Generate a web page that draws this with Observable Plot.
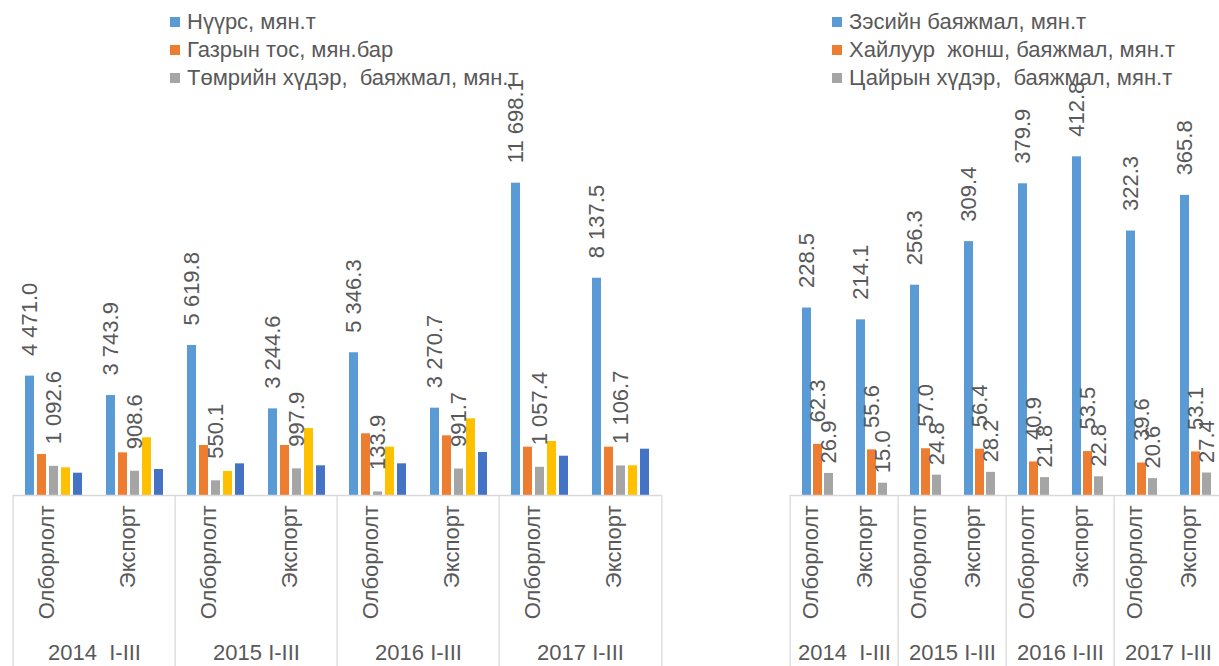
<!DOCTYPE html>
<html>
<head>
<meta charset="utf-8">
<script src="https://cdn.jsdelivr.net/npm/d3@7"></script>
<script src="https://cdn.jsdelivr.net/npm/@observablehq/plot@0.6"></script>
<style>
  html, body { margin: 0; padding: 0; background: #fff; }
  #wrap { position: relative; width: 1219px; height: 666px; overflow: hidden; font-family: "Liberation Sans", Arial, sans-serif; }
  .panel { position: absolute; top: 0; }
  .panel svg { max-width: none !important; }
  .legend { position: absolute; top: 8px; font-size: 22px; color: #595959; }
  .legend .row { height: 28px; display: flex; align-items: center; white-space: pre; }
  .legend .sw { width: 10px; height: 10px; margin-right: 7px; flex: none; }
</style>
</head>
<body>
<div id="wrap">
  <div id="left" class="panel" style="left:0px; width:680px"></div>
  <div id="right" class="panel" style="left:770px; width:460px"></div>
  <div id="legL" class="legend" style="left:170px"></div>
  <div id="legR" class="legend" style="left:832px"></div>
</div>
<script>
// ---------- data ----------
const years = ["2014", "2015", "2016", "2017"];
const yearLabels = ["2014  I-III", "2015 I-III", "2016 I-III", "2017 I-III"];
const types = ["Олборлолт", "Экспорт"];

// Left panel series (order within each group)
const leftSeries = ["Нүүрс, мян.т", "Газрын тос, мян.бар", "Төмрийн хүдэр,  баяжмал, мян.т", "Цуврал 4", "Цуврал 5"];
const leftLegend = ["Нүүрс, мян.т", "Газрын тос, мян.бар", "Төмрийн хүдэр,  баяжмал, мян.т"];
const coal     = [4471.0, 3743.9, 5619.8, 3244.6, 5346.3, 3270.7, 11698.1, 8137.5];
const oil      = [1535, 1598, 1873, 1873, 2310, 2235, 1810, 1810];
const ironOre  = [1092.6, 908.6, 550.1, 997.9, 133.9, 991.7, 1057.4, 1106.7];
const series4  = [1037, 2160, 899, 2509, 1810, 2872, 2022, 1112];
const series5  = [835, 974, 1186, 1112, 1186, 1610, 1472, 1734];
const leftValues = [coal, oil, ironOre, series4, series5];
// series that carry value labels, with their label offset (px above bar)
const leftLabelled = [["Нүүрс, мян.т", -20], ["Төмрийн хүдэр,  баяжмал, мян.т", -22]];

// Right panel series
const rightSeries = ["Зэсийн баяжмал, мян.т", "Хайлуур  жонш, баяжмал, мян.т", "Цайрын хүдэр,  баяжмал, мян.т"];
const copper   = [228.5, 214.1, 256.3, 309.4, 379.9, 412.8, 322.3, 365.8];
const fluorspar= [62.3, 55.6, 57.0, 56.4, 40.9, 53.5, 39.6, 53.1];
const zinc     = [26.9, 15.0, 24.8, 28.2, 21.8, 22.8, 20.6, 27.4];
const rightValues = [copper, fluorspar, zinc];
const rightLabelled = [["Зэсийн баяжмал, мян.т", -20], ["Хайлуур  жонш, баяжмал, мян.т", -22], ["Цайрын хүдэр,  баяжмал, мян.т", -10]];

const leftColors  = ["#5B9BD5", "#ED7D31", "#A5A5A5", "#FFC000", "#4472C4"];
const rightColors = ["#5B9BD5", "#ED7D31", "#A5A5A5"];

// ---------- helpers ----------
const cats = [];
years.forEach((y, yi) => types.forEach(t => cats.push({year: y, yearLabel: yearLabels[yi], type: t, key: y + " " + t})));
const catKeys = cats.map(c => c.key);

function longTable(seriesNames, values) {
  const rows = [];
  cats.forEach((c, ci) => seriesNames.forEach((s, si) => rows.push({key: c.key, series: s, value: values[si][ci]})));
  return rows;
}
const fmt = d3.formatLocale({decimal: ".", thousands: " ", grouping: [3], currency: ["", ""]}).format(",.1f");

const textColor = "#595959";
const lineColor = "#D9D9D9";
const font = "Liberation Sans, Arial, sans-serif";
const baseY = 495;      // baseline pixel
const H = 666;

function panel({width, marginLeft, marginRight, yMax, pxPerUnit, seriesNames, colors, values, labelled, paddingInner, paddingOuter}) {
  const data = longTable(seriesNames, values);
  const plotH = yMax * pxPerUnit;
  const marginTop = baseY - plotH;
  const marginBottom = H - baseY;
  const fw = (width - marginLeft - marginRight) / catKeys.length;
  const olb = cats.filter(c => c.type === types[0]);
  const last = cats[cats.length - 1];
  const labelMarks = labelled.map(([name, off]) => Plot.text(data.filter(d => d.series === name), {
    fx: "key", x: "series", y: "value", text: d => fmt(d.value),
    rotate: -90, textAnchor: "start", dy: off, fontSize: 22, fill: textColor
  }));
  return Plot.plot({
    width, height: H, marginLeft, marginRight, marginTop, marginBottom,
    style: {fontFamily: font, background: "transparent", overflow: "visible", maxWidth: "none"},
    fx: {domain: catKeys, padding: 0, axis: null},
    x: {domain: seriesNames, paddingInner, paddingOuter, axis: null},
    y: {domain: [0, yMax], axis: null},
    color: {domain: seriesNames, range: colors},
    marks: [
      Plot.barY(data, {fx: "key", x: "series", y: "value", fill: "series"}),
      Plot.ruleY([0], {stroke: lineColor, strokeWidth: 1.3}),
      ...labelMarks,
      // category labels
      Plot.text(cats, {fx: "key", text: "type", frameAnchor: "bottom", rotate: -90, textAnchor: "end", dy: 10, fontSize: 22, fill: textColor}),
      // year labels
      Plot.text(olb, {fx: "key", text: "yearLabel", frameAnchor: "bottom-right", textAnchor: "middle", dy: 164, fontSize: 22, fill: textColor}),
      // separators in the category band
      Plot.ruleX(olb, {fx: "key", x: null, dx: -fw / 2, insetTop: plotH, insetBottom: -marginBottom, stroke: lineColor, strokeWidth: 1.3}),
      Plot.ruleX([last], {fx: "key", x: null, dx: fw / 2, insetTop: plotH, insetBottom: -marginBottom, stroke: lineColor, strokeWidth: 1.3})
    ]
  });
}

document.getElementById("left").append(panel({
  width: 680, marginLeft: 10, marginRight: 16, yMax: 12000, pxPerUnit: 0.0267,
  seriesNames: leftSeries, colors: leftColors, values: leftValues, labelled: leftLabelled,
  paddingInner: 0.24, paddingOuter: 0.866
}));
document.getElementById("right").append(panel({
  width: 460, marginLeft: 17, marginRight: 5.4, yMax: 450, pxPerUnit: 0.8205,
  seriesNames: rightSeries, colors: rightColors, values: rightValues, labelled: rightLabelled,
  paddingInner: 0.21, paddingOuter: 0.884
}));

function legend(el, names, colors) {
  names.forEach((n, i) => {
    const row = document.createElement("div");
    row.className = "row";
    const sw = document.createElement("span");
    sw.className = "sw"; sw.style.background = colors[i];
    const tx = document.createElement("span");
    tx.textContent = n;
    row.append(sw, tx);
    el.append(row);
  });
}
legend(document.getElementById("legL"), leftLegend, leftColors);
legend(document.getElementById("legR"), rightSeries, rightColors);
</script>
</body>
</html>
